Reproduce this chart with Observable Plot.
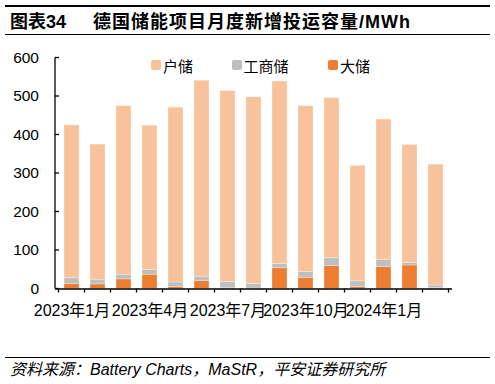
<!DOCTYPE html>
<html><head><meta charset="utf-8">
<script src="https://cdn.jsdelivr.net/npm/d3@7"></script>
<script src="https://cdn.jsdelivr.net/npm/@observablehq/plot@0.6"></script>
<style>
body{margin:0;background:#fff;font-family:"Liberation Sans",Arial,"Noto Sans CJK SC",sans-serif;color:#000}
#wrap{position:relative;width:495px;height:384px;overflow:hidden}
.rule{position:absolute;left:5px;width:485px;height:1.5px;background:#000}
#title{position:absolute;left:10px;top:10px;font-size:18px;font-weight:bold;line-height:24px;white-space:nowrap;font-family:"Liberation Sans",Arial,"Noto Sans CJK SC",sans-serif}
#title .t2{margin-left:27px;letter-spacing:1px}
#chart{position:absolute;left:0;top:36px}
#legend{position:absolute;top:55px;left:0;width:495px;height:20px;font-size:15px;font-family:"Liberation Sans",Arial,"Noto Sans CJK SC",sans-serif}
#legend .item{position:absolute;top:0;display:flex;align-items:center;height:20px;white-space:nowrap}
#legend .sw{width:10px;height:10px;border-radius:2px;margin-right:2px}
#source{position:absolute;left:10px;top:360px;font-size:16px;font-style:italic;line-height:20px;white-space:nowrap;font-family:"Liberation Sans",Arial,"Noto Sans CJK SC",sans-serif}
</style></head><body>
<div id="wrap">
  <div class="rule" style="top:5px"></div>
  <div id="title"><span>图表34</span><span class="t2">德国储能项目月度新增投运容量/MWh</span></div>
  <div class="rule" style="top:33.5px"></div>
  <div id="chart"></div>
  <div id="legend"></div>
  <div class="rule" style="top:357px;height:1px"></div>
  <div id="source">资料来源：Battery Charts，MaStR，平安证券研究所</div>
</div>
<script>
// ---- data ----
const months = ["2023-01","2023-02","2023-03","2023-04","2023-05","2023-06","2023-07","2023-08","2023-09","2023-10","2023-11","2023-12","2024-01","2024-02","2024-03"];
const largeStorage = [13,12,25,37,5,21,2,1,54,29,60,5,57,61,2];          // 大储
const commercialStorage = [15,12,12,12,12,11,16,12,11,15,20,15,18,7,7];   // 工商储
const homeStorage = [397,351,438,375,454,509,496,485,474,431,416,300,365,306,314]; // 户储
const seriesNames = ["大储","工商储","户储"];
const legendOrder = ["户储","工商储","大储"];
const seriesColors = ["#F8C29A","#BFBFBF","#ED7D31"]; // for legendOrder
const labelMonths = ["2023-01","2023-04","2023-07","2023-10","2024-01"];
const labelTexts = ["2023年1月","2023年4月","2023年7月","2023年10月","2024年1月"];
const yTicks = [0,100,200,300,400,500,600];

const seriesValues = [largeStorage, commercialStorage, homeStorage];
const rows = [];
seriesNames.forEach((s, si) => months.forEach((m, i) => rows.push({month: m, series: s, value: seriesValues[si][i]})));
const labelMap = new Map(labelMonths.map((m, i) => [m, labelTexts[i]]));

const font = '"Liberation Sans",Arial,"Noto Sans CJK SC",sans-serif';
const plot = Plot.plot({
  width: 495,
  height: 300,
  marginLeft: 55,
  marginRight: 43,
  marginTop: 21.5,
  marginBottom: 47.5,
  style: {fontFamily: font, color: "#000", background: "transparent", overflow: "visible"},
  x: {domain: months, paddingInner: 0.42, paddingOuter: 0.21, label: null},
  y: {domain: [0, 600], label: null},
  color: {domain: legendOrder, range: seriesColors},
  marks: [
    Plot.barY(rows, Plot.stackY({x: "month", y: "value", fill: "series", stroke: "#fff", strokeOpacity: 0.35, strokeWidth: 0.8})),
    Plot.axisY({ticks: yTicks, tickSize: 0, tickPadding: 16.5, fontSize: 15.5, tickFormat: d => String(d), label: null}),
    Plot.axisX({tickSize: 0, tickPadding: 15.5, fontSize: 16, tickFormat: d => labelMap.get(d) ?? "", label: null}),
    Plot.ruleY([0], {stroke: "#000", strokeWidth: 1.3})
  ]
});
document.getElementById("chart").appendChild(plot);

// axis line and tick marks using the plot's scales
const xs = plot.scale("x"), ys = plot.scale("y");
const svg = d3.select(plot);
const y0 = ys.apply(0), yTop = ys.apply(600);
const x0 = xs.range[0];
const g = svg.append("g").attr("stroke", "#000").attr("stroke-width", 1.3);
g.append("line").attr("x1", x0).attr("x2", x0).attr("y1", yTop).attr("y2", y0);
yTicks.forEach(t => g.append("line").attr("x1", x0).attr("x2", x0 + 4).attr("y1", ys.apply(t)).attr("y2", ys.apply(t)));
const bounds = [xs.apply(months[0]) + xs.bandwidth / 2 - xs.step / 2].concat(months.map(m => xs.apply(m) + xs.bandwidth / 2 + xs.step / 2));
bounds.forEach(b => g.append("line").attr("x1", b).attr("x2", b).attr("y1", y0).attr("y2", y0 + 4));

// legend
const legendX = [151, 231.5, 328];
const lg = document.getElementById("legend");
legendOrder.forEach((s, i) => {
  const it = document.createElement("div");
  it.className = "item";
  it.style.left = legendX[i] + "px";
  it.innerHTML = `<div class="sw" style="background:${seriesColors[i]}"></div><span>${s}</span>`;
  lg.appendChild(it);
});
</script>
</body></html>
